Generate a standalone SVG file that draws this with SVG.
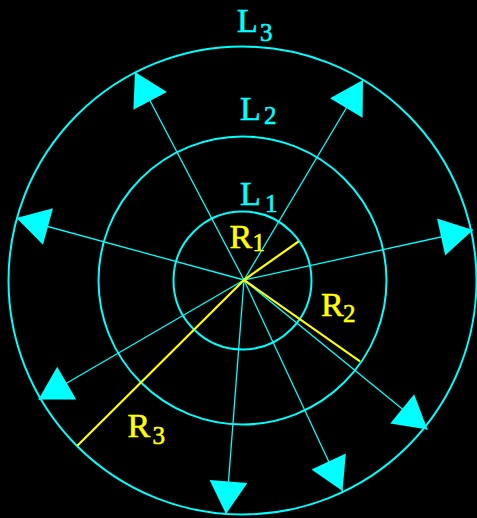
<svg xmlns="http://www.w3.org/2000/svg" width="477" height="518" viewBox="0 0 477 518">
<defs>
<style>
.ring{fill:none;stroke:#00FFFF;stroke-width:2}
.arr{stroke:#00FFFF;stroke-width:1.3;fill:none;marker-end:url(#head)}
.rad{stroke:#FFFF00;stroke-width:2.2;fill:none}
.lc{fill:#00FFFF;stroke:#00FFFF;stroke-width:0.6;font-family:"Liberation Serif","DejaVu Serif",serif;font-size:34px}
.ly{fill:#FFFF00;stroke:#FFFF00;stroke-width:0.6;font-family:"Liberation Serif","DejaVu Serif",serif;font-size:34px}
.sub{font-size:25px}
</style>
<marker id="head" markerUnits="userSpaceOnUse" markerWidth="40" markerHeight="40" viewBox="-32 -19 33 38" refX="0" refY="0" orient="auto">
<path d="M0,0 L-31,-18 L-31,18 Z" fill="#00FFFF"/>
</marker>
</defs>
<rect width="477" height="518" fill="#000"/>
<g id="L1"><circle class="ring" cx="242.5" cy="280.5" r="69"/></g>
<g id="L2"><circle class="ring" cx="242.5" cy="280.5" r="144"/></g>
<g id="L3"><circle class="ring" cx="242.5" cy="280.5" r="234"/></g>
<g id="connectors">
<line class="arr" x1="244" y1="280" x2="135" y2="72"/>
<line class="arr" x1="244" y1="280" x2="363" y2="80"/>
<line class="arr" x1="244" y1="280" x2="16.5" y2="218"/>
<line class="arr" x1="244" y1="280" x2="473" y2="230"/>
<line class="arr" x1="244" y1="280" x2="38.5" y2="399.5"/>
<line class="arr" x1="244" y1="280" x2="427.5" y2="429.5"/>
<line class="arr" x1="244" y1="280" x2="226" y2="514"/>
<line class="arr" x1="244" y1="280" x2="342.5" y2="491"/>
<line class="rad" x1="244" y1="280" x2="298.5" y2="241.5"/>
<line class="rad" x1="244" y1="280" x2="360" y2="361.3"/>
<line class="rad" x1="244" y1="280" x2="77.3" y2="445.7"/>
</g>
<g id="labels">
<text class="lc" x="237" y="32">L<tspan class="sub" x="260" y="41">3</tspan></text>
<text class="lc" x="240" y="119.5">L<tspan class="sub" x="264" y="124">2</tspan></text>
<text class="lc" x="240" y="204.5">L<tspan class="sub" x="265" y="211.5">1</tspan></text>
<text class="ly" x="229.5" y="248.3">R<tspan class="sub" x="252.5" y="251">1</tspan></text>
<text class="ly" x="321" y="315.7">R<tspan class="sub" x="343" y="321.7">2</tspan></text>
<text class="ly" x="127.5" y="436.7">R<tspan class="sub" x="152.5" y="444.3">3</tspan></text>
</g>
</svg>
